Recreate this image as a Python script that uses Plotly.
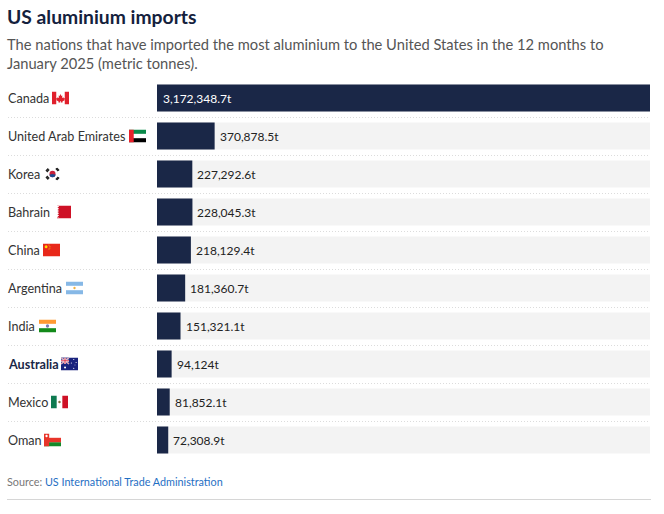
import base64
import plotly.graph_objects as go

countries = ["Canada", "United Arab Emirates", "Korea", "Bahrain", "China",
             "Argentina", "India", "Australia", "Mexico", "Oman"]
tonnes = [3172348.7, 370878.5, 227292.6, 228045.3, 218129.4,
          181360.7, 151321.1, 94124, 81852.1, 72308.9]
value_labels = ["3,172,348.7t", "370,878.5t", "227,292.6t", "228,045.3t", "218,129.4t",
                "181,360.7t", "151,321.1t", "94,124t", "81,852.1t", "72,308.9t"]

W, H = 664, 514
L, R, T, B = 157, 650, 79, 459
NAVY = "#1a2747"
FONT = "Lato"

def xp(x): return (x - L) / (R - L)
def yp(y): return (B - y) / (B - T)

def svg(body, w=18, h=13):
    s = f'<svg xmlns="http://www.w3.org/2000/svg" viewBox="0 0 {w} {h}" width="{w*6}" height="{h*6}" preserveAspectRatio="none">{body}</svg>'
    return "data:image/svg+xml;base64," + base64.b64encode(s.encode()).decode()

flags = {
 "Canada": (svg('<rect width="18" height="13" fill="#fff"/><rect width="4.5" height="13" fill="#e0202c"/><rect x="13.5" width="4.5" height="13" fill="#e0202c"/><path d="M9 2.5l1 2 1-.5-.4 2.6 1.4-.9.5 1 1.2-.2-.5 1.7.5.3L11 10l.2 1H9.4L9.3 9.6H8.7L8.6 11H6.8L7 10 4.3 8.5l.5-.3-.5-1.7 1.2.2.5-1 1.4.9L7 4l1 .5z" fill="#e0202c"/>'), 52),
 "United Arab Emirates": (svg('<rect width="18" height="4.4" fill="#0a8a4a"/><rect y="4.4" width="18" height="4.3" fill="#fff"/><rect y="8.7" width="18" height="4.3" fill="#000"/><rect width="5" height="13" fill="#e8202a"/>'), 129),
 "Korea": (svg('<rect width="18" height="13" fill="#fff"/><circle cx="9" cy="6.5" r="3.2" fill="#c8203a"/><path d="M5.8 6.5a3.2 3.2 0 0 0 6.4 0c-1 1.3-2.2 0-3.2 0s-2.2 1.3-3.2 0z" fill="#1a4a90"/><g stroke="#222" stroke-width="1.3"><path d="M2 3.5l2.5-2.5M3 4.5l2.5-2.5M12.5 1l2.5 2.5M13.5 .5l2.5 2.5M2 9.5l2.5 2.5M3 8.5l2.5 2.5M12.5 12l2.5-2.5M13.5 12.5l2.5-2.5"/></g>'), 44),
 "Bahrain": (svg('<rect width="14" height="13" fill="#ce1126"/><path d="M0 0h.4l1.8 1.1-1.8 1.1 1.800 1.100-1.800 1.100 1.800 1.100-1.800 1.100 1.800 1.100-1.800 1.100 1.800 1.100-1.800 1.100 1.800 1-1.800 .1H0z" fill="#fff"/>', 14, 13), 57),
 "China": (svg('<rect width="18" height="13" fill="#e8281a"/><g fill="#ffdd00"><circle cx="3.3" cy="3.3" r="1.5"/><circle cx="6.3" cy="1.5" r=".5"/><circle cx="7.3" cy="2.8" r=".5"/><circle cx="7.3" cy="4.4" r=".5"/><circle cx="6.3" cy="5.6" r=".5"/></g>'), 43),
 "Argentina": (svg('<rect width="18" height="13" fill="#86b8e6"/><rect y="4.3" width="18" height="4.4" fill="#fff"/><circle cx="9" cy="6.5" r="1.2" fill="#f0b040"/>'), 66),
 "India": (svg('<rect width="18" height="4.4" fill="#ff9a33"/><rect y="4.4" width="18" height="4.3" fill="#fff"/><rect y="8.7" width="18" height="4.3" fill="#138a1a"/><circle cx="9" cy="6.5" r="1.7" fill="#7a7ab0"/>'), 39),
 "Australia": (svg('<rect width="18" height="13" fill="#1a237e"/><rect width="8.5" height="6.5" fill="#2a3a90"/><path d="M0 0l8.5 6.5M8.5 0L0 6.5" stroke="#fff" stroke-width="1.2"/><path d="M0 0l8.5 6.5M8.5 0L0 6.5" stroke="#d8203a" stroke-width=".5"/><path d="M4.25 0v6.5M0 3.25h8.5" stroke="#fff" stroke-width="1.8"/><path d="M4.25 0v6.5M0 3.25h8.5" stroke="#d8203a" stroke-width=".9"/><g fill="#fff"><circle cx="4.3" cy="10" r="1.1"/><circle cx="13.5" cy="2" r=".6"/><circle cx="11" cy="5.5" r=".6"/><circle cx="16" cy="5" r=".6"/><circle cx="13.5" cy="10.8" r=".6"/><circle cx="14.8" cy="7.5" r=".4"/></g>'), 61),
 "Mexico": (svg('<rect width="18" height="13" fill="#fff"/><rect width="6" height="13" fill="#0e7a50"/><rect x="12" width="6" height="13" fill="#ce1126"/><circle cx="9" cy="6.5" r="1.3" fill="#8a7040"/>'), 51),
 "Oman": (svg('<rect width="18" height="13" fill="#fff"/><rect y="8.7" width="18" height="4.3" fill="#138a2a"/><rect y="4.3" width="18" height="4.4" fill="#e8352a"/><rect width="5.5" height="13" fill="#e8352a"/><circle cx="2.7" cy="2.5" r="1.2" fill="#fff"/>'), 44),
}

fig = go.Figure()
fig.add_bar(y=countries, x=[max(tonnes)] * len(countries), orientation="h",
            marker=dict(color="#f3f3f3", line_width=0), hoverinfo="skip", showlegend=False)
fig.add_bar(y=countries, x=tonnes, orientation="h",
            marker=dict(color=NAVY, line_width=0), showlegend=False)

ann = []
for c, v, lab in zip(countries, tonnes, value_labels):
    inside = v > 0.5 * max(tonnes)
    ann.append(dict(x=0 if inside else v, y=c, xref="x", yref="y", text=lab, showarrow=False,
                    xanchor="left", xshift=5 if inside else 4, borderpad=0,
                    font=dict(family=FONT, size=12, color="#fff" if inside else "#222")))
    label = f"<b>{c}</b>" if c == "Australia" else c
    ann.append(dict(x=xp(7), y=c, xref="paper", yref="y", text=label, showarrow=False,
                    xanchor="left", borderpad=0,
                    font=dict(family=FONT, size=12.6, color=NAVY if c == "Australia" else "#333")))

def txt(x, y, text, size, color, family=FONT):
    return dict(x=xp(x), y=yp(y), xref="paper", yref="paper", text=text, showarrow=False,
                xanchor="left", yanchor="middle", borderpad=0, font=dict(family=family, size=size, color=color))

ann += [
    txt(6, 16, "<b>US aluminium imports</b>", 19.3, "#14213d"),
    txt(6, 44, "The nations that have imported the most aluminium to the United States in the 12 months to", 14.7, "#555"),
    txt(6, 63, "January 2025 (metric tonnes).", 14.7, "#555"),
    txt(6, 481, 'Source: <span style="color:#1f6fc4">US International Trade Administration</span>', 10.8, "#777"),
]

shapes = []
for k in range(1, 10):
    y = T + 38 * k + 0.5
    shapes.append(dict(type="line", xref="paper", yref="paper", x0=xp(8), x1=xp(650), y0=yp(y), y1=yp(y),
                       line=dict(color="#dcdcdc", width=1, dash="1px,2px"), layer="below"))
shapes.append(dict(type="line", xref="paper", yref="paper", x0=xp(7), x1=xp(651), y0=yp(499.5), y1=yp(499.5),
                   line=dict(color="#d6d6d6", width=1)))

images = []
for i, c in enumerate(countries):
    src, fx = flags[c]
    w = 14 if c == "Bahrain" else 17
    images.append(dict(source=src, xref="paper", yref="paper", x=xp(fx), y=yp(91.5 + 38 * i),
                       sizex=w / (R - L), sizey=13 / (B - T), sizing="stretch",
                       xanchor="left", yanchor="top", layer="above"))

fig.update_layout(
    width=W, height=H, autosize=False, barmode="overlay", bargap=11 / 38,
    margin=dict(l=L, r=W - R, t=T, b=H - B, pad=0),
    paper_bgcolor="#fff", plot_bgcolor="#fff",
    xaxis=dict(range=[0, max(tonnes)], visible=False, fixedrange=True),
    yaxis=dict(autorange="reversed", visible=False, fixedrange=True, type="category"),
    annotations=ann, shapes=shapes, images=images,
    font=dict(family=FONT),
)
fig.write_html("out.html", config=dict(displayModeBar=False),
               post_script="document.body.style.margin='0';")
